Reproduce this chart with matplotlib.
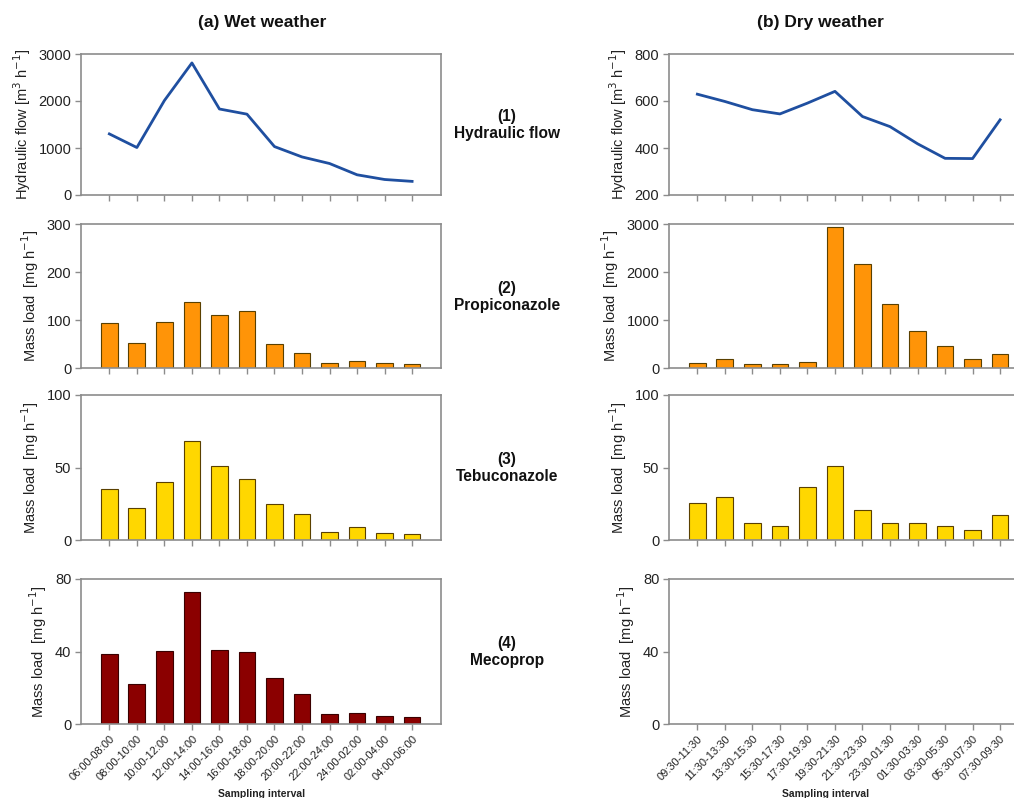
import matplotlib
matplotlib.use("Agg")
import matplotlib.pyplot as plt
import numpy as np

plt.rcParams['font.family'] = ['Liberation Sans', 'DejaVu Sans']

wet_intervals = ["06:00-08:00", "08:00-10:00", "10:00-12:00", "12:00-14:00",
                 "14:00-16:00", "16:00-18:00", "18:00-20:00", "20:00-22:00",
                 "22:00-24:00", "24:00-02:00", "02:00-04:00", "04:00-06:00"]
dry_intervals = ["09:30-11:30", "11:30-13:30", "13:30-15:30", "15:30-17:30",
                 "17:30-19:30", "19:30-21:30", "21:30-23:30", "23:30-01:30",
                 "01:30-03:30", "03:30-05:30", "05:30-07:30", "07:30-09:30"]

wet_flow = [1300, 1010, 2010, 2810, 1830, 1720, 1030, 810, 670, 430, 330, 290]
dry_flow = [629, 598, 563, 545, 591, 641, 534, 491, 418, 356, 355, 520]

wet_propiconazole = [94, 52, 95, 138, 110, 118, 49, 32, 10, 15, 10, 9]
dry_propiconazole = [111, 188, 84, 84, 118, 2937, 2172, 1336, 766, 459, 181, 285]

wet_tebuconazole = [35, 22.3, 39.8, 68.3, 51, 42.3, 24.8, 17.9, 5.7, 9.2, 5.1, 3.9]
dry_tebuconazole = [25.3, 29.9, 11.5, 9.9, 36.6, 51, 20.7, 11.5, 11.5, 9.9, 6.7, 17.5]

wet_mecoprop = [38.8, 22.1, 40.3, 72.8, 41, 39.9, 25.4, 16.4, 5.3, 6.1, 4.2, 3.9]
dry_mecoprop = []  # no data in dry weather

W, H = 1014, 798
fig = plt.figure(figsize=(W / 100, H / 100), dpi=100)
fig.patch.set_facecolor('white')

rows_px = [(54, 195), (224, 368), (395, 540), (579, 724)]
cols_px = [(81, 441), (669, 1029)]

def make_ax(col, row):
    x0, x1 = cols_px[col]
    y0, y1 = rows_px[row]
    return fig.add_axes([x0 / W, 1 - y1 / H, (x1 - x0) / W, (y1 - y0) / H])

spine_col = '#8c8c8c'
text_col = '#222222'

def style(ax, ylim, yticks, ylabel, labels, show_labels):
    ax.set_xlim(-1.03, 12.05)
    ax.set_ylim(*ylim)
    ax.set_yticks(yticks)
    ax.set_yticklabels([str(t) for t in yticks], fontsize=10.5, color=text_col)
    for s in ax.spines.values():
        s.set_color(spine_col)
        s.set_linewidth(1.2)
    ax.set_xticks(np.arange(12))
    ax.tick_params(axis='both', direction='out', length=4, width=1, color=spine_col)
    ax.tick_params(axis='y', pad=3)
    if show_labels:
        ax.set_xticklabels(labels, rotation=45, ha='right', rotation_mode='anchor',
                           fontsize=8, color=text_col)
        ax.tick_params(axis='x', pad=3)
    else:
        ax.set_xticklabels([])
    ax.set_ylabel(ylabel, fontsize=10.5, color=text_col, labelpad=4)

flow_label = r'Hydraulic flow [m$^3$ h$^{-1}$]'
mass_label = r'Mass load  [mg h$^{-1}$]'
x = np.arange(12)
bw = 0.61

orange = '#ff9408'
yellow = '#ffd700'
darkred = '#8b0000'
edge = '#5a4000'
blue = '#1f4fa0'

# Wet weather
ax = make_ax(0, 0)
ax.plot(x, wet_flow, color=blue, lw=2)
style(ax, (0, 3000), [0, 1000, 2000, 3000], flow_label, wet_intervals, False)

ax = make_ax(0, 1)
ax.bar(x, wet_propiconazole, bw, color=orange, edgecolor=edge, linewidth=0.8)
style(ax, (0, 300), [0, 100, 200, 300], mass_label, wet_intervals, False)

ax = make_ax(0, 2)
ax.bar(x, wet_tebuconazole, bw, color=yellow, edgecolor=edge, linewidth=0.8)
style(ax, (0, 100), [0, 50, 100], mass_label, wet_intervals, False)

ax = make_ax(0, 3)
ax.bar(x, wet_mecoprop, bw, color=darkred, edgecolor='#3a0000', linewidth=0.8)
style(ax, (0, 80), [0, 40, 80], mass_label, wet_intervals, True)

# Dry weather
ax = make_ax(1, 0)
ax.plot(x, dry_flow, color=blue, lw=2)
style(ax, (200, 800), [200, 400, 600, 800], flow_label, dry_intervals, False)

ax = make_ax(1, 1)
ax.bar(x, dry_propiconazole, bw, color=orange, edgecolor=edge, linewidth=0.8)
style(ax, (0, 3000), [0, 1000, 2000, 3000], mass_label, dry_intervals, False)

ax = make_ax(1, 2)
ax.bar(x, dry_tebuconazole, bw, color=yellow, edgecolor=edge, linewidth=0.8)
style(ax, (0, 100), [0, 50, 100], mass_label, dry_intervals, False)

ax = make_ax(1, 3)
if dry_mecoprop:
    ax.bar(x[:len(dry_mecoprop)], dry_mecoprop, bw, color=darkred)
style(ax, (0, 80), [0, 40, 80], mass_label, dry_intervals, True)

# Titles
fig.text(262 / W, 1 - 22 / H, '(a) Wet weather', ha='center', va='center',
         fontsize=12.5, fontweight='bold', color='#111111')
fig.text(820 / W, 1 - 22 / H, '(b) Dry weather', ha='center', va='center',
         fontsize=12.5, fontweight='bold', color='#111111')

mid = [(125, '(1)\nHydraulic flow'), (297, '(2)\nPropiconazole'),
       (468, '(3)\nTebuconazole'), (652, '(4)\nMecoprop')]
for yp, t in mid:
    fig.text(507 / W, 1 - yp / H, t, ha='center', va='center', fontsize=11.2,
             fontweight='bold', color='#111111', linespacing=1.2)

fig.text(262 / W, 1 - 794 / H, 'Sampling interval', ha='center', va='center',
         fontsize=7.5, fontweight='bold', color=text_col)
fig.text(826 / W, 1 - 794 / H, 'Sampling interval', ha='center', va='center',
         fontsize=7.5, fontweight='bold', color=text_col)

fig.savefig('out.png', dpi=100, facecolor='white')
